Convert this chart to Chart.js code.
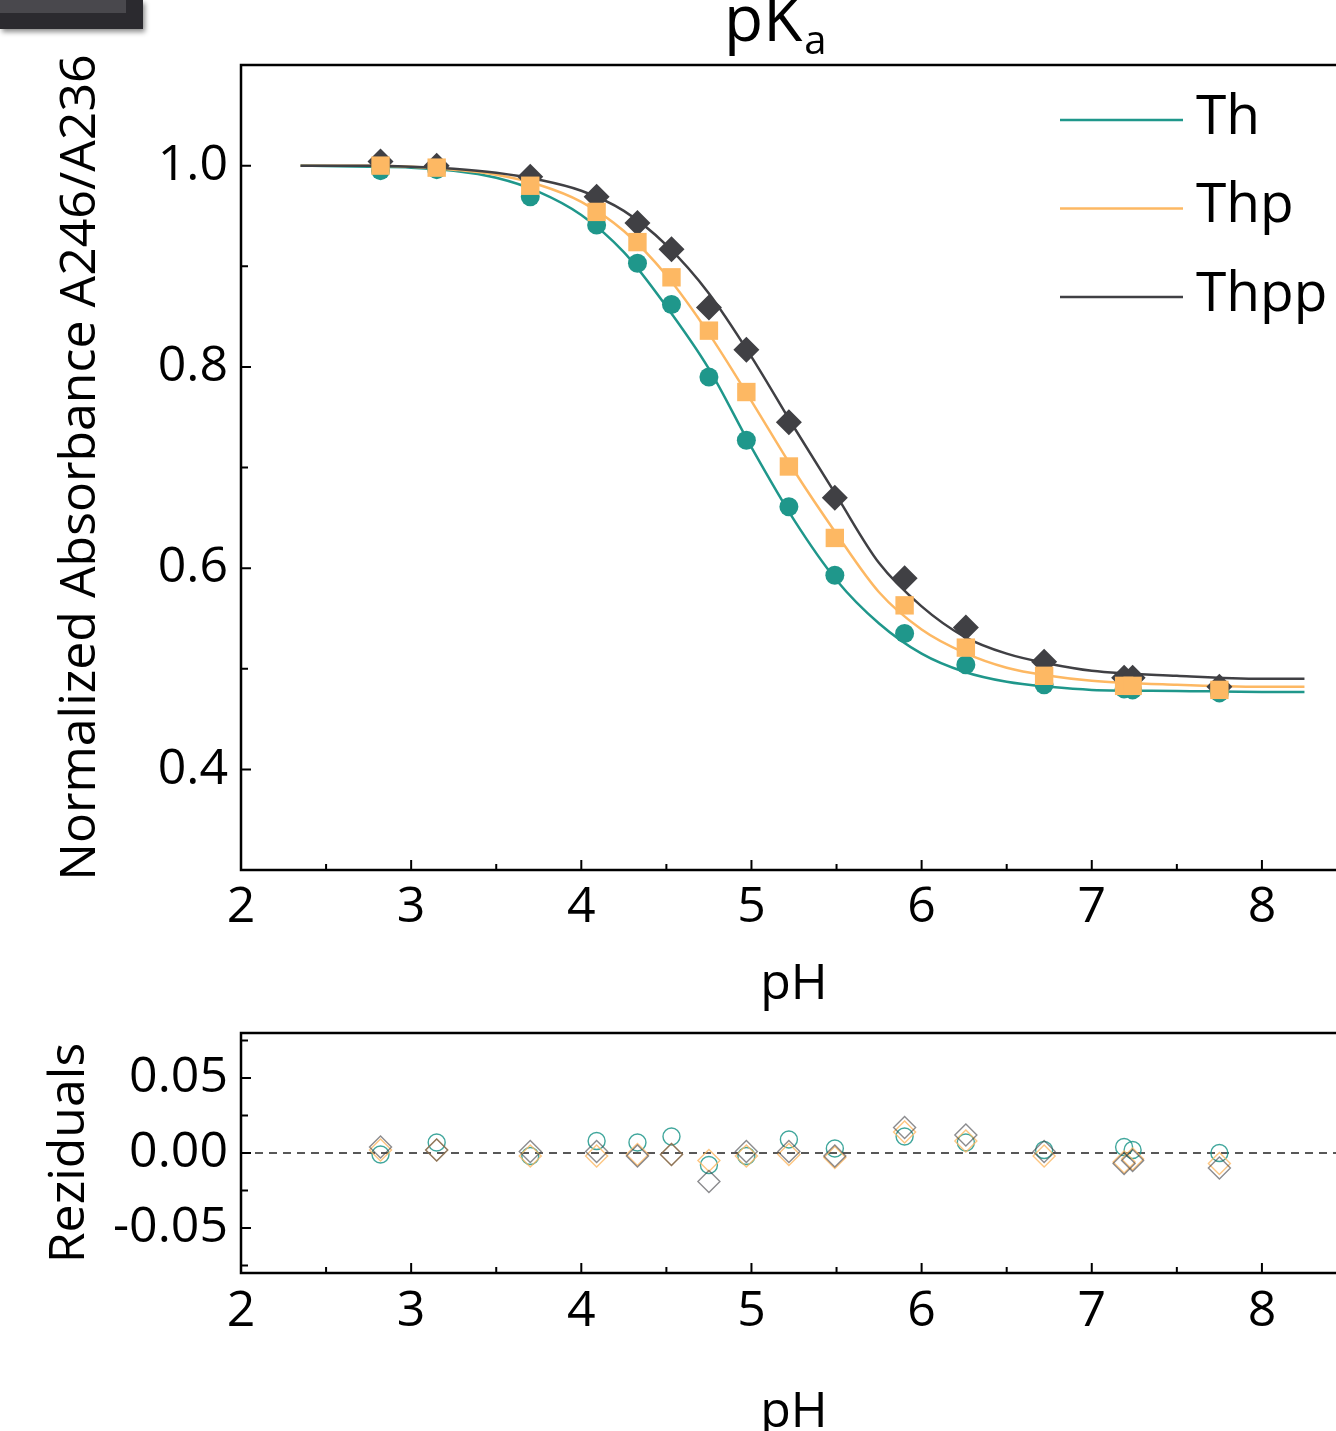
<!DOCTYPE html>
<html>
<head>
<meta charset="utf-8">
<script src="https://cdn.jsdelivr.net/npm/chart.js@4.4.0/dist/chart.umd.min.js"></script>
<style>
html, body { margin: 0; padding: 0; background: #fff; overflow: hidden; width: 1336px; height: 1431px; }
#top { position: absolute; left: 0; top: 0; }
#bot { position: absolute; left: 0; top: 1015px; }
#pka { position: absolute; left: 724px; top: -15px; font: 64px 'Open Sans'; line-height: 64px; color: #000; white-space: nowrap; }
#pka span { font-size: 40px; position: relative; top: 13px; margin-left: 2px; }
#box { position: absolute; left: 0; top: 0; width: 143px; height: 29px; background: #2b2a2f; box-shadow: 2px 3px 5px rgba(0,0,0,0.45); }
#box div { position: absolute; left: 0; top: 0; width: 126px; height: 13px; background: #49484d; }
</style>
</head>
<body>
<canvas id="top" width="1360" height="1015"></canvas>
<canvas id="bot" width="1360" height="460"></canvas>
<div id="pka">pK<span>a</span></div>
<div id="box"><div></div></div>
<script>
// measured points (pH) – same pH values for the three samples
const pH = [2.82, 3.15, 3.70, 4.09, 4.33, 4.53, 4.75, 4.97, 5.22, 5.49, 5.90, 6.26, 6.72, 7.19, 7.24, 7.75];
const thAbs   = [0.995, 0.996, 0.969, 0.941, 0.903, 0.862, 0.790, 0.727, 0.661, 0.593, 0.535, 0.504, 0.484, 0.480, 0.479, 0.476];
const thpAbs  = [1.000, 0.998, 0.980, 0.954, 0.924, 0.889, 0.836, 0.775, 0.701, 0.630, 0.563, 0.521, 0.493, 0.483, 0.483, 0.479];
const thppAbs = [1.004, 1.000, 0.989, 0.969, 0.943, 0.917, 0.859, 0.817, 0.745, 0.670, 0.590, 0.541, 0.507, 0.491, 0.491, 0.482];

// fitted curves
const fitPH   = [2.35, 2.75, 3.0, 3.25, 3.5, 3.75, 4.0, 4.25, 4.5, 4.75, 5.0, 5.25, 5.5, 5.75, 6.0, 6.25, 6.5, 6.75, 7.0, 7.5, 8.0, 8.25];
const thFit   = [1.000, 0.999, 0.998, 0.995, 0.988, 0.974, 0.951, 0.914, 0.860, 0.798, 0.720, 0.648, 0.588, 0.545, 0.515, 0.497, 0.487, 0.482, 0.479, 0.478, 0.477, 0.477];
const thpFit  = [1.000, 1.000, 0.999, 0.996, 0.991, 0.981, 0.964, 0.935, 0.891, 0.833, 0.766, 0.697, 0.634, 0.576, 0.539, 0.516, 0.501, 0.493, 0.488, 0.484, 0.482, 0.482];
const thppFit = [1.000, 1.000, 0.999, 0.997, 0.993, 0.986, 0.975, 0.955, 0.921, 0.873, 0.810, 0.740, 0.672, 0.605, 0.562, 0.532, 0.515, 0.505, 0.498, 0.493, 0.490, 0.490];

// residuals
const thRes   = [-0.001, 0.007, -0.002, 0.008, 0.007, 0.011, -0.008, -0.002, 0.009, 0.003, 0.011, 0.007, 0.002, 0.004, 0.002, 0.000];
const thpRes  = [0.002, 0.002, -0.002, -0.002, -0.001, -0.001, -0.005, -0.002, -0.001, -0.003, 0.014, 0.008, -0.002, -0.006, -0.004, -0.007];
const thppRes = [0.004, 0.002, 0.001, 0.001, -0.002, -0.001, -0.019, 0.001, 0.001, -0.002, 0.017, 0.012, 0.001, -0.007, -0.005, -0.010];

const names = ['Th', 'Thp', 'Thpp'];
const xTicks = [2, 3, 4, 5, 6, 7, 8];
const xMinor = [2.5, 3.5, 4.5, 5.5, 6.5, 7.5, 8.5];
const yTicks = [0.4, 0.6, 0.8, 1.0];
const yMinor = [0.5, 0.7, 0.9];
const resTicks = [-0.05, 0, 0.05];
const resMinor = [-0.075, -0.025, 0.025, 0.075];

const teal = '#1f978b';
const orange = '#fdb863';
const dark = '#404044';

Chart.defaults.font.family = "'Open Sans'";
Chart.defaults.color = '#000';

const pts = (xs, ys) => xs.map((x, i) => ({x: x, y: ys[i]}));

// frame + inward tick marks
const frameTicks = {
  id: 'frameTicks',
  afterDraw(chart, args, o) {
    const {ctx, chartArea: a} = chart;
    const sx = chart.scales.x, sy = chart.scales.y;
    ctx.save();
    ctx.strokeStyle = '#000';
    ctx.lineWidth = 2;
    ctx.beginPath();
    o.xMajor.forEach(v => { const p = sx.getPixelForValue(v); ctx.moveTo(p, a.bottom); ctx.lineTo(p, a.bottom - 10); });
    o.xMinor.forEach(v => { const p = sx.getPixelForValue(v); ctx.moveTo(p, a.bottom); ctx.lineTo(p, a.bottom - 6); });
    o.yMajor.forEach(v => { const p = sy.getPixelForValue(v); ctx.moveTo(a.left, p); ctx.lineTo(a.left + 10, p); });
    o.yMinor.forEach(v => { const p = sy.getPixelForValue(v); ctx.moveTo(a.left, p); ctx.lineTo(a.left + 7, p); });
    ctx.stroke();
    ctx.lineWidth = 2.5;
    ctx.strokeRect(a.left, a.top, a.width, a.height);
    ctx.restore();
  }
};

// legend with line samples only, inside the plot
const lineLegend = {
  id: 'lineLegend',
  afterDraw(chart) {
    const {ctx, chartArea: a} = chart;
    const cols = [teal, orange, dark];
    ctx.save();
    ctx.font = "55px 'Open Sans'";
    ctx.textBaseline = 'middle';
    ctx.fillStyle = '#000';
    names.forEach((n, i) => {
      const y = a.top + 55 + i * 88.5;
      ctx.strokeStyle = cols[i];
      ctx.lineWidth = 2.5;
      ctx.beginPath();
      ctx.moveTo(a.left + 819, y);
      ctx.lineTo(a.left + 942, y);
      ctx.stroke();
      ctx.fillText(n, a.left + 955, y - 2);
    });
    ctx.restore();
  }
};

const fitLine = (label, xs, ys, col, order) => ({
  label: label, data: pts(xs, ys), showLine: true, borderColor: col, borderWidth: 2.5,
  pointRadius: 0, cubicInterpolationMode: 'monotone', order: order
});

const fixY = s => { s.width = 241; s.paddingTop = 0; s.paddingBottom = 0; };

new Chart(document.getElementById('top'), {
  type: 'scatter',
  data: {
    datasets: [
      fitLine('Th fit', fitPH, thFit, teal, 6),
      fitLine('Thp fit', fitPH, thpFit, orange, 5),
      fitLine('Thpp fit', fitPH, thppFit, dark, 4),
      { label: 'Thpp', data: pts(pH, thppAbs), pointStyle: 'rectRot', pointRadius: 13,
        backgroundColor: dark, borderColor: dark, borderWidth: 0, order: 3 },
      { label: 'Th', data: pts(pH, thAbs), pointStyle: 'circle', pointRadius: 9.5,
        backgroundColor: teal, borderColor: teal, borderWidth: 0, order: 2 },
      { label: 'Thp', data: pts(pH, thpAbs), pointStyle: 'rect', pointRadius: 13,
        backgroundColor: orange, borderColor: orange, borderWidth: 0, order: 1 }
    ]
  },
  options: {
    responsive: false,
    animation: false,
    layout: { padding: { top: 65, right: 13, left: 0, bottom: 0 } },
    plugins: {
      legend: { display: false },
      tooltip: { enabled: false },
      frameTicks: { xMajor: xTicks, xMinor: xMinor, yMajor: yTicks, yMinor: yMinor }
    },
    scales: {
      x: {
        type: 'linear', min: 2, max: 8.5,
        afterBuildTicks: s => { s.ticks = xTicks.map(v => ({value: v})); },
        afterFit: s => { s.height = 145; },
        grid: { display: false, drawTicks: false },
        border: { display: false },
        ticks: { font: { size: 50 }, padding: 8, maxRotation: 0 },
        title: { display: true, text: 'pH', font: { size: 50 }, padding: { top: 0, bottom: 0 } }
      },
      y: {
        min: 0.3, max: 1.1,
        afterBuildTicks: s => { s.ticks = yTicks.map(v => ({value: v})); },
        afterFit: fixY,
        grid: { display: false, drawTicks: false },
        border: { display: false },
        ticks: { font: { size: 50 }, padding: 13, callback: v => v.toFixed(1) },
        title: { display: true, text: 'Normalized Absorbance A246/A236', font: { size: 50 }, padding: { top: 51, bottom: 0 } }
      }
    }
  },
  plugins: [frameTicks, lineLegend]
});

new Chart(document.getElementById('bot'), {
  type: 'scatter',
  data: {
    datasets: [
      { label: 'zero', data: [{x: 2, y: 0}, {x: 8.5, y: 0}], showLine: true, borderColor: '#222',
        borderWidth: 1.5, borderDash: [8, 6], pointRadius: 0, order: 4 },
      { label: 'Th', data: pts(pH, thRes), pointStyle: 'circle', pointRadius: 8.5,
        backgroundColor: 'rgba(0,0,0,0)', borderColor: 'rgba(31,151,139,0.85)', borderWidth: 1.4, order: 3 },
      { label: 'Thp', data: pts(pH, thpRes), pointStyle: 'rectRot', pointRadius: 11,
        backgroundColor: 'rgba(0,0,0,0)', borderColor: 'rgba(253,184,99,0.8)', borderWidth: 1.4, order: 2 },
      { label: 'Thpp', data: pts(pH, thppRes), pointStyle: 'rectRot', pointRadius: 11,
        backgroundColor: 'rgba(0,0,0,0)', borderColor: 'rgba(64,64,68,0.6)', borderWidth: 1.4, order: 1 }
    ]
  },
  options: {
    responsive: false,
    animation: false,
    layout: { padding: { top: 18, right: 13, left: 0, bottom: 0 } },
    plugins: {
      legend: { display: false },
      tooltip: { enabled: false },
      frameTicks: { xMajor: xTicks, xMinor: xMinor, yMajor: resTicks, yMinor: resMinor }
    },
    scales: {
      x: {
        type: 'linear', min: 2, max: 8.5,
        afterBuildTicks: s => { s.ticks = xTicks.map(v => ({value: v})); },
        afterFit: s => { s.height = 202; },
        grid: { display: false, drawTicks: false },
        border: { display: false },
        ticks: { font: { size: 50 }, padding: 9, maxRotation: 0 },
        title: { display: true, text: 'pH', font: { size: 50 }, padding: { top: 0, bottom: 32 } }
      },
      y: {
        min: -0.08, max: 0.08,
        afterBuildTicks: s => { s.ticks = resTicks.map(v => ({value: v})); },
        afterFit: fixY,
        grid: { display: false, drawTicks: false },
        border: { display: false },
        ticks: { font: { size: 50 }, padding: 13, callback: v => v.toFixed(2) },
        title: { display: true, text: 'Reziduals', font: { size: 50 }, padding: { top: 40, bottom: 0 } }
      }
    }
  },
  plugins: [frameTicks]
});
</script>
</body>
</html>
